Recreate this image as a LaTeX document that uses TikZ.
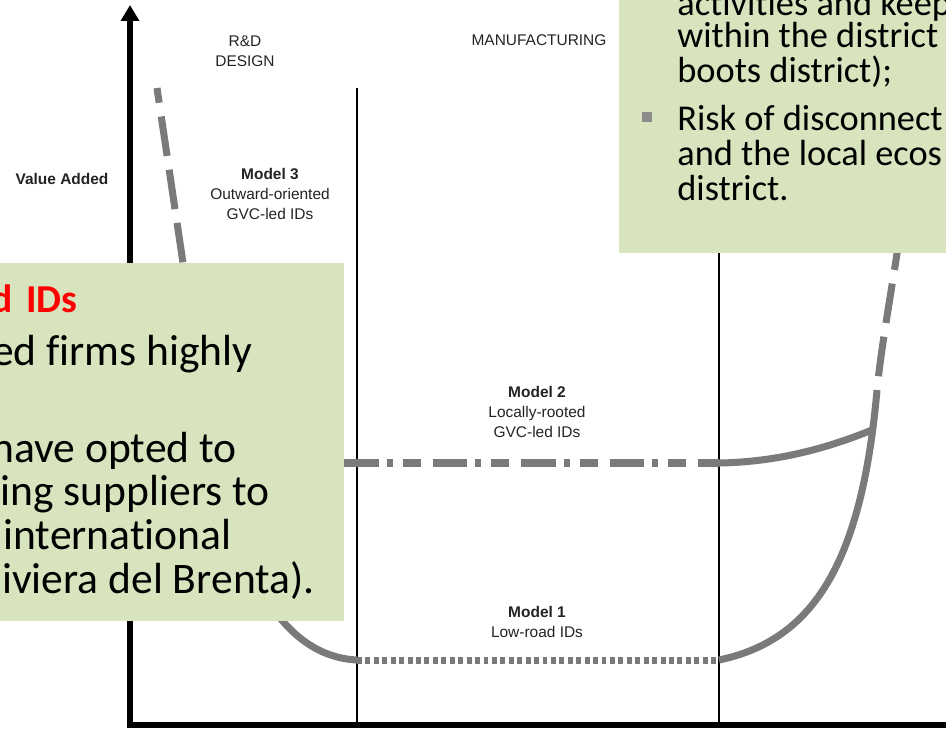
\documentclass[tikz,border=0pt]{standalone}
\usepackage{fontspec}
\setmainfont{Carlito}[Ligatures=CommonOff]
\newfontfamily\chartfont{Liberation Sans}
\usetikzlibrary{arrows.meta}
\definecolor{boxgreen}{RGB}{215,228,189}
\definecolor{curvegray}{RGB}{122,122,122}
\definecolor{bulletgray}{RGB}{140,140,140}
\definecolor{labelgray}{RGB}{35,35,35}

\begin{document}
\begin{tikzpicture}[x=0.02cm, y=-0.02cm,
	axis/.style={line width=3.4pt, black},
	divider/.style={line width=1.5pt, black},
	curve/.style={line width=4pt, curvegray},
	lbl/.style={inner sep=0pt, text=labelgray, align=center,
		font=\chartfont\fontsize{8.8}{11.6}\selectfont},
	bigline/.style={inner sep=0pt, anchor=base east, font=\fontsize{24.8}{24.8}\selectfont},
	smallline/.style={inner sep=0pt, anchor=base west, font=\fontsize{20.7}{19.5}\selectfont}]

	\useasboundingbox (0,0) rectangle (946,731);
	\clip (0,0) rectangle (946,731);

	% Punkte
	\coordinate (O) at (130,725);
	\coordinate (Ytop) at (130,5);
	\coordinate (Xend) at (960,725);
	\coordinate (D1top) at (357,88);
	\coordinate (D1bot) at (357,725);
	\coordinate (D2top) at (719,88);
	\coordinate (D2bot) at (719,725);
	\coordinate (L3) at (157,88);
	\coordinate (L3b) at (190,310);
	\coordinate (M1a) at (357,660);
	\coordinate (M1b) at (719,660);
	\coordinate (R3) at (877,390);
	\coordinate (R3top) at (902,220);
	\coordinate (M2a) at (344,463);
	\coordinate (M2b) at (719,463);
	\coordinate (M2c) at (872,430);

	% Achsen
	\draw[axis, -{Triangle[width=10pt,length=9pt]}] (O) -- (Ytop);
	\draw[axis] (127,725) -- (Xend);

	% Trennlinien
	\draw[divider] (D1top) -- (D1bot);
	\draw[divider] (D2top) -- (D2bot);

	% Model 1 / Model 3
	\draw[curve, dash pattern=on 22.7pt off 7.9pt, dash phase=14.2pt] (L3) -- (L3b);
	\draw[curve] (L3b) .. controls (212,500) and (255,655) .. (M1a);
	\draw[curve, dash pattern=on 2.8pt off 2pt] (M1a) -- (M1b);
	\draw[curve] (M1b) .. controls (815,640) and (862,560) .. (R3);
	\draw[curve, dash pattern=on 22.7pt off 7.9pt, dash phase=22.7pt]
		(R3) .. controls (882,340) and (892,290) .. (R3top);

	% Model 2
	\draw[curve, dash pattern=on 19.8pt off 4.5pt on 3.4pt off 5.7pt on 10.2pt off 6.8pt]
		(M2a) -- (M2b);
	\draw[curve] (M2b) .. controls (780,462) and (830,447) .. (M2c);

	% Beschriftung
	\node[lbl] (rd) at (245,51) {R\&D\\DESIGN};
	\node[lbl] (manu) at (539,40) {MANUFACTURING};
	\node[lbl] (value) at (62,179) {\textbf{Value Added}};
	\node[lbl] (model3) at (270,194) {\textbf{Model 3}\\Outward-oriented\\GVC-led IDs};
	\node[lbl] (model2) at (537,412) {\textbf{Model 2}\\Locally-rooted\\GVC-led IDs};
	\node[lbl] (model1) at (537,622) {\textbf{Model 1}\\Low-road IDs};

	% Kasten links
	\fill[boxgreen] (-10,263) rectangle (344,621);
	\node[bigline, text=red, font=\bfseries\fontsize{22.5}{22.5}\selectfont] (ltitle) at (78,312) {d\hspace{0.35em}IDs};
	\node[bigline] (l1) at (253,365) {ed firms highly};
	\node[bigline] (l2) at (237,462) {have opted to};
	\node[bigline] (l3) at (270,505) {ing suppliers to};
	\node[bigline] (l4) at (232,549) {international};
	\node[bigline] (l5) at (315,593) {iviera del Brenta).};

	% Kasten rechts
	\fill[boxgreen] (619,-10) rectangle (956,253);
	\fill[bulletgray] (642,112) rectangle (652,122);
	\node[smallline] (r1) at (677,15) {activities and keep};
	\node[smallline] (r2) at (677,47) {within the district};
	\node[smallline] (r3) at (677,82) {boots district);};
	\node[smallline] (r4) at (677,130) {Risk of disconnect};
	\node[smallline] (r5) at (677,165) {and the local ecos};
	\node[smallline] (r6) at (677,200) {district.};

\end{tikzpicture}
\end{document}
